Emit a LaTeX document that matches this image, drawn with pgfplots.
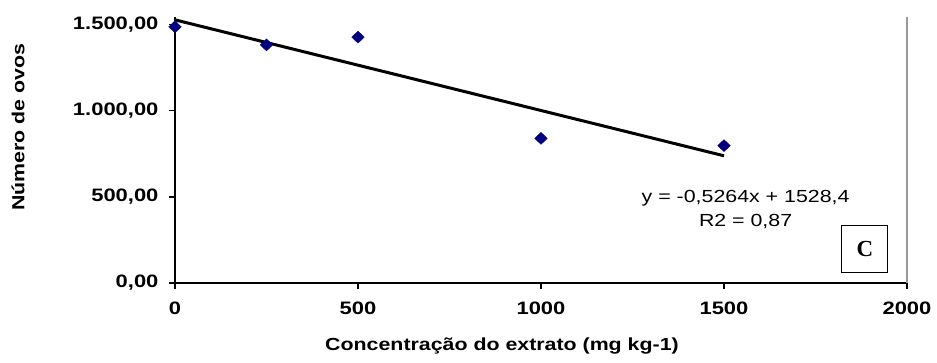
\documentclass[border=0pt]{standalone}
\usepackage{pgfplots}
\pgfplotsset{compat=1.18}
\usepackage{fontspec}
\setmainfont[FakeStretch=1.22]{Liberation Sans}
\newfontfamily\timesfont{Liberation Serif}
\definecolor{navy}{HTML}{000080}
\begin{document}
\begin{tikzpicture}
\useasboundingbox (-175pt,-79pt) rectangle (762pt,283pt);
\begin{axis}[
  at={(0,0)}, anchor=south west,
  scale only axis, width=732pt, height=266pt,
  xmin=0, xmax=2000, ymin=0, ymax=1545,
  axis x line*=bottom, axis y line*=left,
  axis line style={line width=1.2pt, -},
  xtick={0,500,1000,1500,2000},
  xticklabels={0,500,1000,1500,2000},
  ytick={0,500,1000,1500},
  yticklabels={{0,00},{500,00},{1.000,00},{1.500,00}},
  tick align=outside, major tick length=6pt,
  tick style={line width=1.2pt, black},
  /pgf/number format/assume math mode=true,
  xticklabel style={font=\fontsize{18}{21}\selectfont\bfseries, yshift=-9pt},
  yticklabel style={font=\fontsize{18}{21}\selectfont\bfseries, xshift=-7pt},
  xlabel={Concentração do extrato (mg kg-1)},
  ylabel={Número de ovos},
  xlabel style={font=\fontsize{17.5}{20}\selectfont\bfseries, at={(rel axis cs:0.5,0)}, anchor=center, xshift=-39pt, yshift=-63pt},
  ylabel style={font=\fontsize{17.5}{20}\selectfont\bfseries, at={(rel axis cs:0,0.5)}, anchor=center, xshift=23pt, yshift=157pt},
  clip=false,
]
\draw[color=black!40, line width=1.5pt] (rel axis cs:1,0) -- (rel axis cs:1,1);
\addplot[black, line width=3pt, no marks] coordinates {(0,1528.4) (1500,738.8)};
\addplot[only marks, mark=diamond*, mark size=6pt, mark options={xscale=1.4}, color=navy] coordinates {
(0,1488) (250,1383) (500,1428) (1000,840) (1500,798)};
\node[font=\fontsize{17.5}{20}\selectfont] at (axis cs:1559,494) {y = -0,5264x + 1528,4};
\node[font=\fontsize{17.5}{20}\selectfont] at (axis cs:1559,355) {R2 = 0,87};
\node[draw, line width=1pt, minimum width=46pt, minimum height=47pt, inner sep=0pt, font=\timesfont\fontsize{23}{26}\selectfont\bfseries] at (axis cs:1885,195) {C};
\end{axis}
\end{tikzpicture}
\end{document}
